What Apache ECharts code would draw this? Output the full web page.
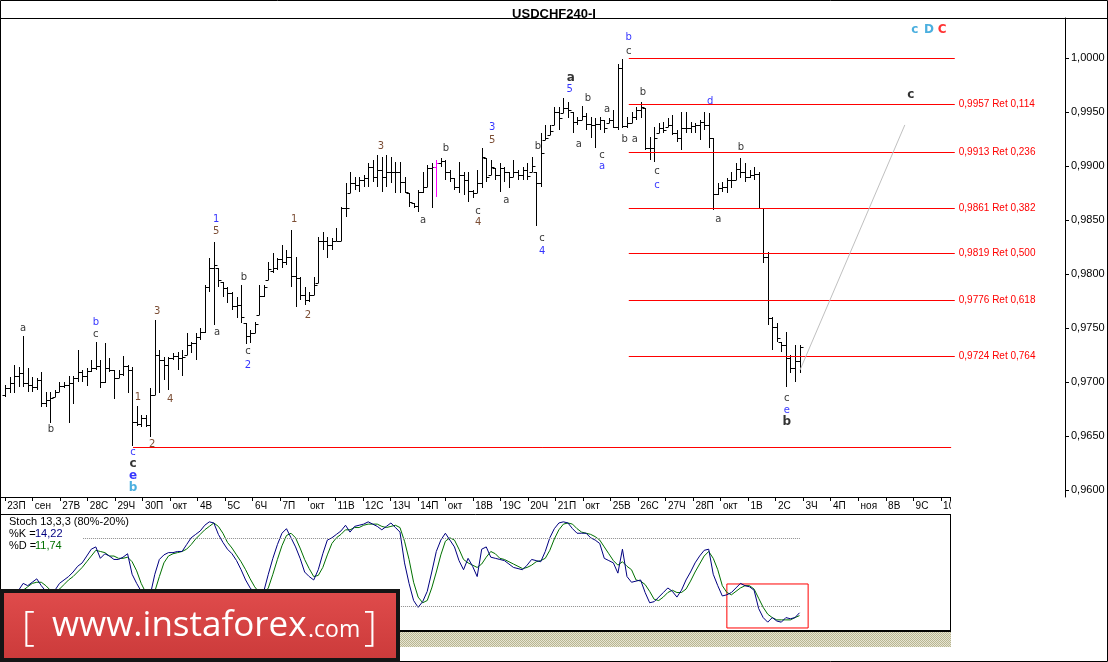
<!DOCTYPE html>
<html><head><meta charset="utf-8">
<script src="https://cdn.jsdelivr.net/npm/echarts@6/dist/echarts.min.js"></script>
<style>html,body{margin:0;padding:0;background:#fff}#c{width:1108px;height:662px}</style>
</head><body><div id="c"></div>
<script>
// ---------------- DATA ----------------
const SYMBOL = 'USDCHF240-I';
const dayLabels = ['23П','сен','27В','28С','29Ч','30П','окт','4В','5С','6Ч','7П','окт','11В','12С','13Ч','14П','окт','18В','19С','20Ч','21П','окт','25В','26С','27Ч','28П','окт','1В','2С','3Ч','4П','ноя','8В','9С','10'];
const opens = [0.9688,0.9694,0.9699,0.9706,0.9708,0.9699,0.9697,0.9695,0.9702,0.9681,
 0.9683,0.9686,0.9691,0.9696,0.9697,0.9699,0.9704,0.9709,0.9706,0.9710,
 0.9713,0.9715,0.9700,0.9713,0.9711,0.9704,0.9707,0.9715,0.9711,0.9663,
 0.9661,0.9667,0.9660,0.9688,0.9725,0.9720,0.9716,0.9722,0.9724,0.9722,
 0.9725,0.9734,0.9736,0.9742,0.9746,0.9788,0.9806,0.9806,0.9793,0.9787,
 0.9782,0.9770,0.9771,0.9755,0.9743,0.9745,0.9762,0.9780,0.9794,0.9803,
 0.9806,0.9814,0.9811,0.9816,0.9798,0.9796,0.9781,0.9776,0.9781,0.9792,
 0.9831,0.9831,0.9827,0.9831,0.9831,0.9861,0.9875,0.9884,0.9882,0.9887,
 0.9889,0.9899,0.9890,0.9896,0.9890,0.9894,0.9894,0.9894,0.9885,0.9875,
 0.9866,0.9863,0.9876,0.9881,0.9898,0.9899,0.9903,0.9905,0.9894,0.9889,
 0.9881,0.9892,0.9887,0.9877,0.9875,0.9884,0.9907,0.9892,0.9898,0.9892,
 0.9898,0.9894,0.9890,0.9894,0.9892,0.9896,0.9894,0.9894,0.9884,0.9924,
 0.9929,0.9938,0.9950,0.9949,0.9954,0.9950,0.9941,0.9943,0.9946,0.9939,
 0.9938,0.9939,0.9943,0.9940,0.9943,0.9936,0.9991,0.9937,0.9940,0.9945,
 0.9952,0.9954,0.9917,0.9917,0.9931,0.9935,0.9936,0.9938,0.9931,0.9926,
 0.9935,0.9935,0.9937,0.9938,0.9941,0.9938,0.9926,0.9874,0.9880,0.9881,
 0.9887,0.9887,0.9897,0.9894,0.9890,0.9892,0.9893,0.9861,0.9816,0.9759,
 0.9751,0.9737,0.9734,0.9722,0.9713,0.9719];
const highs = [0.9697,0.9705,0.9716,0.9714,0.9743,0.9713,0.9705,0.9704,0.9709,0.9691,
 0.9691,0.9693,0.9700,0.9700,0.9706,0.9706,0.9730,0.9711,0.9713,0.9720,
 0.9737,0.9720,0.9736,0.9722,0.9711,0.9711,0.9724,0.9716,0.9714,0.9678,
 0.9669,0.9669,0.9694,0.9757,0.9730,0.9723,0.9723,0.9727,0.9728,0.9730,
 0.9745,0.9737,0.9745,0.9750,0.9790,0.9815,0.9830,0.9806,0.9793,0.9788,
 0.9783,0.9779,0.9790,0.9755,0.9748,0.9756,0.9790,0.9790,0.9811,0.9819,
 0.9815,0.9827,0.9822,0.9841,0.9816,0.9797,0.9788,0.9783,0.9797,0.9834,
 0.9839,0.9834,0.9833,0.9843,0.9862,0.9884,0.9894,0.9890,0.9890,0.9892,
 0.9903,0.9906,0.9910,0.9908,0.9910,0.9908,0.9904,0.9904,0.9890,0.9875,
 0.9866,0.9878,0.9894,0.9901,0.9903,0.9906,0.9907,0.9906,0.9896,0.9889,
 0.9904,0.9894,0.9894,0.9878,0.9896,0.9917,0.9907,0.9906,0.9898,0.9903,
 0.9899,0.9894,0.9906,0.9896,0.9899,0.9903,0.9908,0.9894,0.9931,0.9938,
 0.9938,0.9955,0.9955,0.9963,0.9959,0.9950,0.9945,0.9956,0.9949,0.9945,
 0.9944,0.9945,0.9943,0.9944,0.9952,0.9994,0.9999,0.9945,0.9950,0.9955,
 0.9959,0.9954,0.9927,0.9936,0.9940,0.9941,0.9944,0.9947,0.9933,0.9950,
 0.9950,0.9941,0.9940,0.9943,0.9950,0.9949,0.9926,0.9884,0.9885,0.9889,
 0.9894,0.9903,0.9907,0.9903,0.9896,0.9899,0.9894,0.9861,0.9820,0.9760,
 0.9755,0.9737,0.9746,0.9725,0.9734,0.9734];
const lows = [0.9686,0.9690,0.9690,0.9695,0.9695,0.9691,0.9691,0.9693,0.9677,0.9677,
 0.9662,0.9686,0.9691,0.9694,0.9662,0.9680,0.9700,0.9700,0.9696,0.9709,
 0.9711,0.9694,0.9699,0.9709,0.9684,0.9704,0.9706,0.9690,0.9641,0.9659,
 0.9658,0.9658,0.9649,0.9688,0.9690,0.9702,0.9693,0.9720,0.9711,0.9706,
 0.9725,0.9727,0.9720,0.9739,0.9745,0.9783,0.9753,0.9788,0.9779,0.9773,
 0.9767,0.9759,0.9755,0.9735,0.9736,0.9745,0.9762,0.9779,0.9794,0.9801,
 0.9804,0.9806,0.9808,0.9788,0.9769,0.9776,0.9771,0.9774,0.9781,0.9792,
 0.9822,0.9815,0.9822,0.9831,0.9831,0.9853,0.9875,0.9878,0.9876,0.9881,
 0.9881,0.9885,0.9881,0.9876,0.9881,0.9884,0.9875,0.9875,0.9875,0.9862,
 0.9861,0.9857,0.9875,0.9881,0.9861,0.9871,0.9899,0.9887,0.9885,0.9878,
 0.9875,0.9873,0.9867,0.9870,0.9875,0.9880,0.9885,0.9892,0.9887,0.9876,
 0.9885,0.9880,0.9890,0.9887,0.9887,0.9887,0.9894,0.9844,0.9881,0.9924,
 0.9929,0.9938,0.9933,0.9949,0.9944,0.9931,0.9938,0.9943,0.9933,0.9926,
 0.9917,0.9933,0.9931,0.9940,0.9935,0.9933,0.9935,0.9935,0.9940,0.9943,
 0.9944,0.9915,0.9906,0.9904,0.9931,0.9931,0.9936,0.9929,0.9922,0.9915,
 0.9931,0.9931,0.9931,0.9924,0.9933,0.9917,0.9859,0.9873,0.9876,0.9875,
 0.9880,0.9887,0.9889,0.9885,0.9889,0.9887,0.9861,0.9810,0.9753,0.9730,
 0.9737,0.9728,0.9695,0.9708,0.9700,0.9708];
const closes = [0.9694,0.9699,0.9706,0.9708,0.9699,0.9697,0.9695,0.9702,0.9681,0.9683,
 0.9685,0.9691,0.9696,0.9697,0.9699,0.9704,0.9709,0.9706,0.9710,0.9713,
 0.9715,0.9700,0.9713,0.9711,0.9704,0.9707,0.9715,0.9711,0.9663,0.9661,
 0.9667,0.9660,0.9688,0.9725,0.9720,0.9716,0.9722,0.9724,0.9722,0.9723,
 0.9734,0.9736,0.9742,0.9746,0.9788,0.9806,0.9808,0.9794,0.9787,0.9782,
 0.9770,0.9771,0.9760,0.9743,0.9745,0.9754,0.9780,0.9788,0.9805,0.9806,
 0.9814,0.9811,0.9816,0.9798,0.9796,0.9781,0.9776,0.9781,0.9790,0.9831,
 0.9831,0.9827,0.9831,0.9831,0.9861,0.9861,0.9884,0.9882,0.9887,0.9889,
 0.9899,0.9890,0.9896,0.9890,0.9894,0.9894,0.9894,0.9885,0.9876,0.9867,
 0.9863,0.9876,0.9881,0.9898,0.9899,0.9903,0.9905,0.9894,0.9889,0.9881,
 0.9892,0.9887,0.9877,0.9875,0.9884,0.9908,0.9890,0.9899,0.9892,0.9898,
 0.9894,0.9890,0.9894,0.9892,0.9896,0.9891,0.9900,0.9884,0.9912,0.9926,
 0.9932,0.9950,0.9944,0.9954,0.9952,0.9941,0.9943,0.9946,0.9939,0.9938,
 0.9939,0.9943,0.9935,0.9943,0.9936,0.9991,0.9937,0.9940,0.9945,0.9952,
 0.9955,0.9917,0.9917,0.9926,0.9935,0.9933,0.9938,0.9931,0.9926,0.9935,
 0.9935,0.9937,0.9938,0.9941,0.9938,0.9926,0.9874,0.9880,0.9881,0.9887,
 0.9887,0.9897,0.9894,0.9890,0.9892,0.9893,0.9861,0.9816,0.9759,0.9751,
 0.9741,0.9734,0.9722,0.9713,0.9719,0.9732];
const stochK = [30,27,30,34,40,38,41,44,38,33,
 30,34,40,43,46,50,55,58,64,70,
 72,62,66,64,61,61,63,66,48,40,
 33,22,30,48,61,65,67,67,68,68,
 74,80,83,86,91,94,93,83,76,70,
 66,60,52,43,36,32,28,33,48,62,
 74,84,88,80,72,62,50,46,43,52,
 66,78,80,83,86,91,85,90,91,92,
 94,92,90,87,90,93,89,85,58,40,
 25,19,24,33,50,68,78,84,78,72,
 60,52,62,55,46,70,72,63,62,61,
 60,57,54,53,52,56,61,60,59,68,
 80,88,93,94,93,88,84,84,84,80,
 78,75,62,60,58,49,70,46,41,42,
 43,32,23,24,28,32,36,33,28,34,
 43,50,58,64,69,70,48,38,29,30,
 32,36,40,38,37,34,18,10,6,10,
 7,6,10,9,10,14.22];
const stochD = [32,30,29,30,34,37,40,41,41,38,
 34,32,35,39,43,46,50,54,59,64,
 69,68,67,64,64,62,62,63,59,51,
 40,32,28,33,46,58,64,66,67,68,
 70,74,79,83,87,90,93,90,84,76,
 71,65,59,52,44,37,32,31,36,48,
 61,73,82,84,80,71,61,53,46,47,
 54,65,75,80,83,87,87,89,89,91,
 92,92,92,90,89,90,91,89,77,61,
 41,28,23,25,36,50,65,77,80,78,
 70,61,58,56,54,57,63,68,66,62,
 61,59,57,55,53,54,56,59,60,62,
 69,79,87,92,93,92,88,85,84,83,
 81,78,72,66,60,56,59,55,52,43,
 42,39,33,26,25,28,32,34,32,32,
 35,42,50,57,64,68,62,52,38,32,
 30,33,36,38,38,35,27,19,13,10,
 8,8,8,8,10,11.74];
const priceTicks = [0.9600,0.9650,0.9700,0.9750,0.9800,0.9850,0.9900,0.9950,1.0000];
const fibLevels = [0.9957,0.9913,0.9861,0.9819,0.9776,0.9724];
const fibRatios = [0.114,0.236,0.382,0.500,0.618,0.764];
const fibTop = 1.0000, fibBottom = 0.9640;
const fibSpan = [137.4, 209.2];        // bar-index span of the retracement lines
const fibBottomSpan = [28.2, 208.4];
const trendLine = [[175.1, 0.9711], [198.2, 0.9938]];
const stochLevels = [80, 20];
const stochLevelSpan = [17.2, 175.1];
const stochBox = [[159.0, 39.5], [176.9, 0.9]];
// wave labels: [bar index, price, text]
const wavesBlack = [[4,0.9750,'a'],[10.1,0.9656,'b'],[20,0.9744,'c'],[46.7,0.9746,'a'],[52.6,0.9797,'b'],[53.5,0.9728,'c'],
 [97.1,0.9916,'b'],[92.1,0.9850,'a'],[104.2,0.9858,'c'],[110.4,0.9868,'a'],[117.4,0.9918,'b'],[118.3,0.9833,'c'],
 [128.4,0.9963,'b'],[126.4,0.9920,'a'],[132.6,0.9952,'a'],[131.5,0.9910,'c'],[137.4,1.0006,'c'],[136.5,0.9925,'b'],
 [138.7,0.9925,'a'],[140.5,0.9968,'b'],[143.6,0.9895,'c'],[157.1,0.9851,'a'],[162.1,0.9917,'b'],[172.2,0.9685,'c']];
const wavesBlue = [[20,0.9755,'b'],[28.2,0.9635,'c'],[53.5,0.9715,'2'],[46.5,0.9851,'1'],[107.3,0.9936,'3'],[118.3,0.9821,'4'],
 [124.4,0.9971,'5'],[131.5,0.9900,'a'],[137.4,1.0019,'b'],[143.6,0.9882,'c'],[155.3,0.9960,'d'],[172.2,0.9674,'e']];
const wavesMinor = [[29.3,0.9686,'1'],[33.5,0.9765,'3'],[32.4,0.9642,'2'],[36.4,0.9684,'4'],[46.5,0.9839,'5'],[66.7,0.9762,'2'],
 [63.7,0.9851,'1'],[82.8,0.9918,'3'],[107.3,0.9924,'5'],[104.2,0.9848,'4']];
const wavesBoldBlack = [[28.2,0.9624,'c'],[124.6,0.9982,'a'],[199.5,0.9966,'c'],[172.2,0.9663,'b']];
const wavesBoldBlue = [[28.2,0.9613,'e']];
const wavesBoldCyan = [[28.2,0.9602,'b'],[200.4,1.0026,'c'],[203.5,1.0026,'D']];
const wavesBoldRed = [[206.4,1.0026,'C']];

// ---------------- LAYOUT / STYLE ----------------
const BAR_PX = 4.54, PLOT_LEFT = 2.73, PRICE_RIGHT = 1065, STOCH_RIGHT = 950;
const PRICE_TOP = 18, PRICE_BOTTOM = 497;
const PRICE_MIN = 0.959352, PRICE_MAX = 1.003704;
const HIGHLIGHT_BAR = 95, TICK = 3;
const F = '"Liberation Sans", Arial, sans-serif';
const FW = '"DejaVu Sans", Verdana, sans-serif';
const fmt4 = v => v.toFixed(4).replace('.', ',');

const chart = echarts.init(document.getElementById('c'), null, {renderer: 'canvas'});
const nBars = closes.length;
const ohlc = opens.map((o, i) => [i, o, highs[i], lows[i], closes[i]]);
const timeCats = Array.from({length: 206}, (_, i) => i % 6 === 0 ? (dayLabels[i / 6] || '') : '');

function renderOHLC(params, api) {
  const i = api.value(0);
  const o = api.coord([i, api.value(1)]);
  const h = api.coord([i, api.value(2)]);
  const l = api.coord([i, api.value(3)]);
  const c = api.coord([i, api.value(4)]);
  const x = Math.round(o[0]) + 0.5;
  const yh = Math.round(h[1]), yl = Math.max(Math.round(l[1]), Math.round(h[1]) + 1);
  const yo = Math.round(o[1]) + 0.5, yc = Math.round(c[1]) + 0.5;
  const st = {stroke: params.dataIndex === HIGHLIGHT_BAR ? '#ff00ff' : '#000', lineWidth: 1};
  return {type: 'group', children: [
    {type: 'line', shape: {x1: x, y1: yh, x2: x, y2: yl}, style: st},
    {type: 'line', shape: {x1: x - TICK, y1: yo, x2: x, y2: yo}, style: st},
    {type: 'line', shape: {x1: x, y1: yc, x2: x + TICK, y2: yc}, style: st}
  ]};
}

function labelSeries(arr, color, size, weight) {
  return {
    type: 'scatter', xAxisIndex: 0, yAxisIndex: 0, silent: true, symbolSize: 0, z: 5,
    data: arr.map(a => ({value: [a[0], a[1]], name: a[2]})),
    label: {show: true, position: 'inside', formatter: '{b}', color: color, fontSize: size,
            fontWeight: weight, fontFamily: FW},
    emphasis: {disabled: true}
  };
}

const redLine = {color: '#ff0000', width: 1, type: 'solid'};
const fibMarks = fibLevels.map((lv, k) => [
  {coord: [fibSpan[0], lv], lineStyle: redLine,
   label: {show: true, position: 'end', distance: 4, color: '#ff0000', fontSize: 10, fontFamily: F,
           formatter: fmt4(lv) + ' Ret ' + fibRatios[k].toFixed(3).replace('.', ',')}},
  {coord: [fibSpan[1], lv]}
]);
fibMarks.push([{coord: [fibSpan[0], fibTop], lineStyle: redLine, label: {show: false}}, {coord: [fibSpan[1], fibTop]}]);
fibMarks.push([{coord: [fibBottomSpan[0], fibBottom], lineStyle: redLine, label: {show: false}}, {coord: [fibBottomSpan[1], fibBottom]}]);
fibMarks.push([{coord: trendLine[0], lineStyle: {color: '#c0c0c0', width: 1, type: 'solid'}, label: {show: false}}, {coord: trendLine[1]}]);
const lastClose = closes[nBars - 1];
fibMarks.push({yAxis: lastClose, lineStyle: {opacity: 0},
  label: {show: true, position: 'end', distance: 1, formatter: fmt4(lastClose), color: '#000',
          backgroundColor: '#ffff00', padding: [3, 4, 2, 4], fontSize: 11, fontFamily: F}});

// checker pattern for the hatched strip
const pat = document.createElement('canvas');
pat.width = 2; pat.height = 2;
const pctx = pat.getContext('2d');
pctx.fillStyle = '#e6e4d2'; pctx.fillRect(0, 0, 2, 2);
pctx.fillStyle = '#b9b692'; pctx.fillRect(0, 0, 1, 1); pctx.fillRect(1, 1, 1, 1);

const G = (o) => Object.assign({silent: true, z: 100}, o);
const blk = {stroke: '#000', lineWidth: 1};

const option = {
  animation: false,
  backgroundColor: '#ffffff',
  title: {text: SYMBOL, left: 'center', top: 3,
          textStyle: {fontFamily: F, fontSize: 13, fontWeight: 'bold', color: '#000'}},
  grid: [
    {left: PLOT_LEFT, top: PRICE_TOP, width: PRICE_RIGHT - PLOT_LEFT, height: PRICE_BOTTOM - PRICE_TOP},
    {left: 5, top: 496, width: 945, height: 1},
    {left: PLOT_LEFT, top: 515, width: STOCH_RIGHT - PLOT_LEFT, height: 114}
  ],
  xAxis: [
    {gridIndex: 0, type: 'value', min: -0.5, max: -0.5 + (PRICE_RIGHT - PLOT_LEFT) / BAR_PX, show: false},
    {gridIndex: 1, type: 'category', data: timeCats, boundaryGap: true,
     axisLine: {show: false},
     axisTick: {show: true, interval: (i) => i % 6 === 0, length: 4, lineStyle: {color: '#000'}},
     axisLabel: {interval: (i) => i % 6 === 0, align: 'left', margin: 4, fontSize: 10, color: '#000', fontFamily: F}},
    {gridIndex: 2, type: 'value', min: -0.5, max: -0.5 + (STOCH_RIGHT - PLOT_LEFT) / BAR_PX, show: false}
  ],
  yAxis: [
    {gridIndex: 0, type: 'value', position: 'right', min: PRICE_MIN, max: PRICE_MAX,
     splitLine: {show: false},
     axisLine: {show: true, onZero: false, lineStyle: {color: '#000'}},
     axisTick: {show: true, customValues: priceTicks, length: 4, lineStyle: {color: '#000'}},
     axisLabel: {customValues: priceTicks, formatter: v => fmt4(v), margin: 6, fontSize: 11, color: '#000', fontFamily: F}},
    {gridIndex: 1, type: 'value', show: false},
    {gridIndex: 2, type: 'value', min: 0, max: 100, show: false}
  ],
  series: [
    {type: 'custom', name: 'bars', xAxisIndex: 0, yAxisIndex: 0, renderItem: renderOHLC,
     data: ohlc, encode: {x: 0, y: [1, 2, 3, 4]}, silent: true, z: 3},
    {type: 'line', name: 'annot', xAxisIndex: 0, yAxisIndex: 0, data: closes.map((c, i) => [i, c]),
     showSymbol: false, lineStyle: {opacity: 0}, silent: true, z: 2,
     markLine: {silent: true, symbol: ['none', 'none'], animation: false, data: fibMarks}},
    labelSeries(wavesBlack, '#000000', 10, 'normal'),
    labelSeries(wavesBlue, '#0000ff', 10, 'normal'),
    labelSeries(wavesMinor, '#5a2000', 10, 'normal'),
    labelSeries(wavesBoldBlack, '#000000', 12, 'bold'),
    labelSeries(wavesBoldBlue, '#0000ff', 12, 'bold'),
    labelSeries(wavesBoldCyan, '#1e9bd7', 12, 'bold'),
    labelSeries(wavesBoldRed, '#ff0000', 12, 'bold'),
    {type: 'line', name: '%K', xAxisIndex: 2, yAxisIndex: 2, data: stochK.map((v, i) => [i, v]),
     showSymbol: false, lineStyle: {color: '#000080', width: 1}, silent: true, z: 4,
     markLine: {silent: true, symbol: ['none', 'none'], label: {show: false},
       lineStyle: {color: '#8c8c8c', width: 1, type: 'dotted'},
       data: stochLevels.map(v => [{coord: [stochLevelSpan[0], v]}, {coord: [stochLevelSpan[1], v]}])},
     markArea: {silent: true, itemStyle: {color: 'rgba(0,0,0,0)', borderColor: '#ff0000', borderWidth: 1},
       data: [[{coord: stochBox[0]}, {coord: stochBox[1]}]]}},
    {type: 'line', name: '%D', xAxisIndex: 2, yAxisIndex: 2, data: stochD.map((v, i) => [i, v]),
     showSymbol: false, lineStyle: {color: '#007000', width: 1}, silent: true, z: 3}
  ],
  graphic: [
    G({type: 'rect', shape: {x: 0.5, y: 0.5, width: 1107, height: 661}, style: {fill: null, stroke: '#000', lineWidth: 1}}),
    G({type: 'line', shape: {x1: 0, y1: 18.5, x2: 1108, y2: 18.5}, style: blk}),
    G({type: 'line', shape: {x1: 0, y1: 497.5, x2: 950, y2: 497.5}, style: blk}),
    G({type: 'rect', shape: {x: 951, y: 498, width: 112, height: 15}, style: {fill: '#fff'}}),
    G({type: 'line', shape: {x1: 0, y1: 514.5, x2: 950.5, y2: 514.5}, style: blk}),
    G({type: 'line', shape: {x1: 950.5, y1: 514, x2: 950.5, y2: 632}, style: blk}),
    G({type: 'line', shape: {x1: 0, y1: 631, x2: 951, y2: 631}, style: {stroke: '#000', lineWidth: 2}}),
    G({type: 'rect', shape: {x: 398, y: 632, width: 553, height: 15}, style: {fill: {image: pat, repeat: 'repeat'}}}),
    G({type: 'text', style: {x: 9, y: 522, text: 'Stoch 13,3,3 (80%-20%)', fill: '#000', font: '11px ' + F, verticalAlign: 'middle'}}),
    G({type: 'text', style: {x: 9, y: 534, text: '%K =', fill: '#000', font: '11px ' + F, verticalAlign: 'middle'}}),
    G({type: 'text', style: {x: 35, y: 534, text: stochK[nBars - 1].toFixed(2).replace('.', ','), fill: '#000080', font: '11px ' + F, verticalAlign: 'middle'}}),
    G({type: 'text', style: {x: 9, y: 546, text: '%D =', fill: '#000', font: '11px ' + F, verticalAlign: 'middle'}}),
    G({type: 'text', style: {x: 35, y: 546, text: stochD[nBars - 1].toFixed(2).replace('.', ','), fill: '#007000', font: '11px ' + F, verticalAlign: 'middle'}}),
    // logo
    G({type: 'rect', z: 110, shape: {x: 0, y: 589, width: 400, height: 73}, style: {fill: '#151515'}}),
    G({type: 'rect', z: 111, shape: {x: 4, y: 593, width: 392, height: 65},
       style: {fill: new echarts.graphic.LinearGradient(0, 0, 0, 1, [{offset: 0, color: '#df4b4b'}, {offset: 1, color: '#cc3b3b'}])}}),
    G({type: 'text', z: 112, style: {x: 22, y: 629, text: '[', fill: '#fff', font: '300 40px "Open Sans", sans-serif', verticalAlign: 'middle'}}),
    G({type: 'text', z: 112, style: {x: 52, y: 626, text: 'www.instaforex', fill: '#fff', font: '35px "Open Sans", sans-serif', verticalAlign: 'middle'}}),
    G({type: 'text', z: 112, style: {x: 308, y: 630, text: '.com', fill: '#fff', font: '23px "Open Sans", sans-serif', verticalAlign: 'middle'}}),
    G({type: 'text', z: 112, style: {x: 364, y: 629, text: ']', fill: '#fff', font: '300 40px "Open Sans", sans-serif', verticalAlign: 'middle'}})
  ]
};
chart.setOption(option);
</script>
</body></html>
